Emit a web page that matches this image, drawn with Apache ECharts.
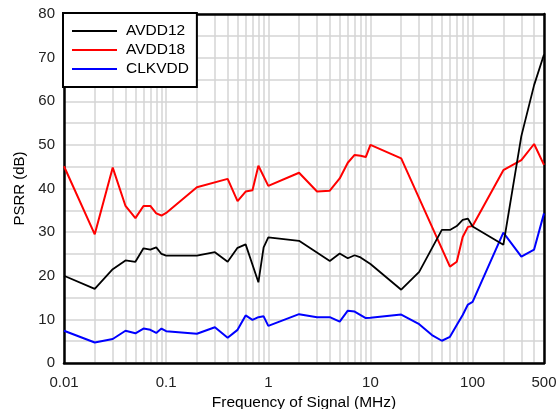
<!DOCTYPE html>
<html>
<head>
<meta charset="utf-8">
<script src="https://cdn.jsdelivr.net/npm/echarts@6/dist/echarts.min.js"></script>
<style>html,body{margin:0;padding:0;background:#fff}#c{width:558px;height:409px}</style>
</head>
<body>
<div id="c"></div>
<script>
// Frequencies (MHz) and PSRR (dB) values
const freqAVDD12 = [0.01,0.02,0.03,0.04,0.05,0.06,0.07,0.08,0.09,0.1,0.2,0.3,0.4,0.5,0.6,0.8,0.9,1,2,4,5,6,7,8,10,20,30,50,60,70,80,90,100,200,300,400,500];
const psrrAVDD12 = [20,17,21.5,23.5,23.2,26.3,26,26.5,25,24.6,24.6,25.4,23.2,26.4,27.2,18.5,26.5,28.8,28,23.4,25.1,24,24.7,24.2,22.7,16.8,20.9,30.5,30.5,31.4,32.8,33.1,31.3,27.1,52,63.7,70.7];

const freqAVDD18 = [0.01,0.02,0.03,0.04,0.05,0.06,0.07,0.08,0.09,0.1,0.2,0.4,0.5,0.6,0.7,0.8,1,2,3,4,5,6,7,8,9,10,20,60,70,80,90,100,200,300,400,500];
const psrrAVDD18 = [45.1,29.5,44.8,36,33.2,36,36,34.3,33.8,34.4,40.3,42.2,37.1,39.3,39.6,45.2,40.6,43.6,39.3,39.5,42.3,45.9,47.7,47.5,47.2,50,46.9,22.1,23.2,28.9,31.2,31.4,44.2,46.5,50.2,45.4];

const freqCLKVDD = [0.01,0.02,0.03,0.04,0.05,0.06,0.07,0.08,0.09,0.1,0.2,0.3,0.4,0.5,0.6,0.7,0.8,0.9,1,2,3,4,5,6,7,9,10,20,30,40,50,60,70,80,90,100,200,300,400,500];
const psrrCLKVDD = [7.4,4.7,5.5,7.4,6.8,7.9,7.6,6.9,7.9,7.3,6.7,8.2,5.8,7.6,10.9,9.9,10.5,10.7,8.5,11.2,10.5,10.5,9.5,12,11.8,10.3,10.4,11.1,8.9,6.4,5.1,6,8.7,11,13.4,14,29.9,24.4,26,34.3];

const seriesNames = ['AVDD12','AVDD18','CLKVDD'];
const seriesColors = ['#000000','#ff0000','#0000ff'];
const xTickLabels = [0.01,0.1,1,10,100,500];
const yMin = 0, yMax = 80;

// minor grid positions (1..9 per decade up to 500)
const xGrid = [];
for (let d = -2; d <= 2; d++) {
  for (let k = 1; k <= 9; k++) {
    const v = parseFloat((k * Math.pow(10, d)).toPrecision(3));
    if (v <= 500) xGrid.push(v);
  }
}

const FONT = 'Arial, "Liberation Sans", sans-serif';
const zip = (xs, ys) => xs.map((x, i) => [x, ys[i]]);
const allFreq = [freqAVDD12, freqAVDD18, freqCLKVDD];
const allVals = [psrrAVDD12, psrrAVDD18, psrrCLKVDD];

const chart = echarts.init(document.getElementById('c'), null, {renderer: 'canvas'});
chart.setOption({
  animation: false,
  backgroundColor: '#fff',
  grid: {left: 64, right: 14, top: 14, bottom: 46, outerBoundsMode: 'none', containLabel: false},
  legend: {
    orient: 'vertical', left: 63, top: 13,
    backgroundColor: '#fff', borderColor: '#000', borderWidth: 2, borderRadius: 0,
    padding: [10, 8, 10, 9],
    itemWidth: 45, itemHeight: 2, itemGap: 3,
    icon: 'rect',
    textStyle: {fontFamily: FONT, fontSize: 15.5, color: '#000', padding: [0, 0, 0, 4]},
    data: seriesNames
  },
  xAxis: [{
    type: 'log', logBase: 10, min: 0.01, max: 500,
    name: 'Frequency of Signal (MHz)', nameLocation: 'middle', nameGap: 31,
    nameTextStyle: {fontFamily: FONT, fontSize: 15.5, color: '#000'},
    axisLine: {show: true, lineStyle: {color: '#000', width: 2.5}},
    axisTick: {show: false, customValues: xGrid},
    splitLine: {show: true, lineStyle: {color: '#d4d4d4', width: 1.5}},
    axisLabel: {
      customValues: xTickLabels, margin: 12,
      fontFamily: FONT, fontSize: 15, color: '#222',
      formatter: v => String(parseFloat(Number(v).toPrecision(3)))
    }
  }, {
    type: 'log', logBase: 10, min: 0.01, max: 500, position: 'top',
    axisLine: {show: true, onZero: false, lineStyle: {color: '#000', width: 2.5}},
    axisTick: {show: false}, axisLabel: {show: false}, splitLine: {show: false}
  }],
  yAxis: [{
    type: 'value', min: yMin, max: yMax, interval: 5,
    name: 'PSRR (dB)', nameLocation: 'middle', nameGap: 36,
    nameTextStyle: {fontFamily: FONT, fontSize: 15, color: '#000'},
    axisLine: {show: true, lineStyle: {color: '#000', width: 2.5}},
    axisTick: {show: false},
    splitLine: {show: true, lineStyle: {color: '#d4d4d4', width: 1.5}},
    axisLabel: {
      margin: 9, fontFamily: FONT, fontSize: 15, color: '#222',
      formatter: v => (v % 10 === 0 ? String(v) : '')
    }
  }, {
    type: 'value', min: yMin, max: yMax, interval: 5, position: 'right',
    axisLine: {show: true, onZero: false, lineStyle: {color: '#000', width: 2.5}},
    axisTick: {show: false}, axisLabel: {show: false}, splitLine: {show: false}
  }],
  series: seriesNames.map((n, i) => ({
    name: n, type: 'line', xAxisIndex: 0, yAxisIndex: 0,
    data: zip(allFreq[i], allVals[i]),
    showSymbol: false, symbol: 'none',
    color: seriesColors[i],
    lineStyle: {color: seriesColors[i], width: i === 0 ? 1.8 : 2},
    z: 3 + (2 - i)
  }))
});
</script>
</body>
</html>
